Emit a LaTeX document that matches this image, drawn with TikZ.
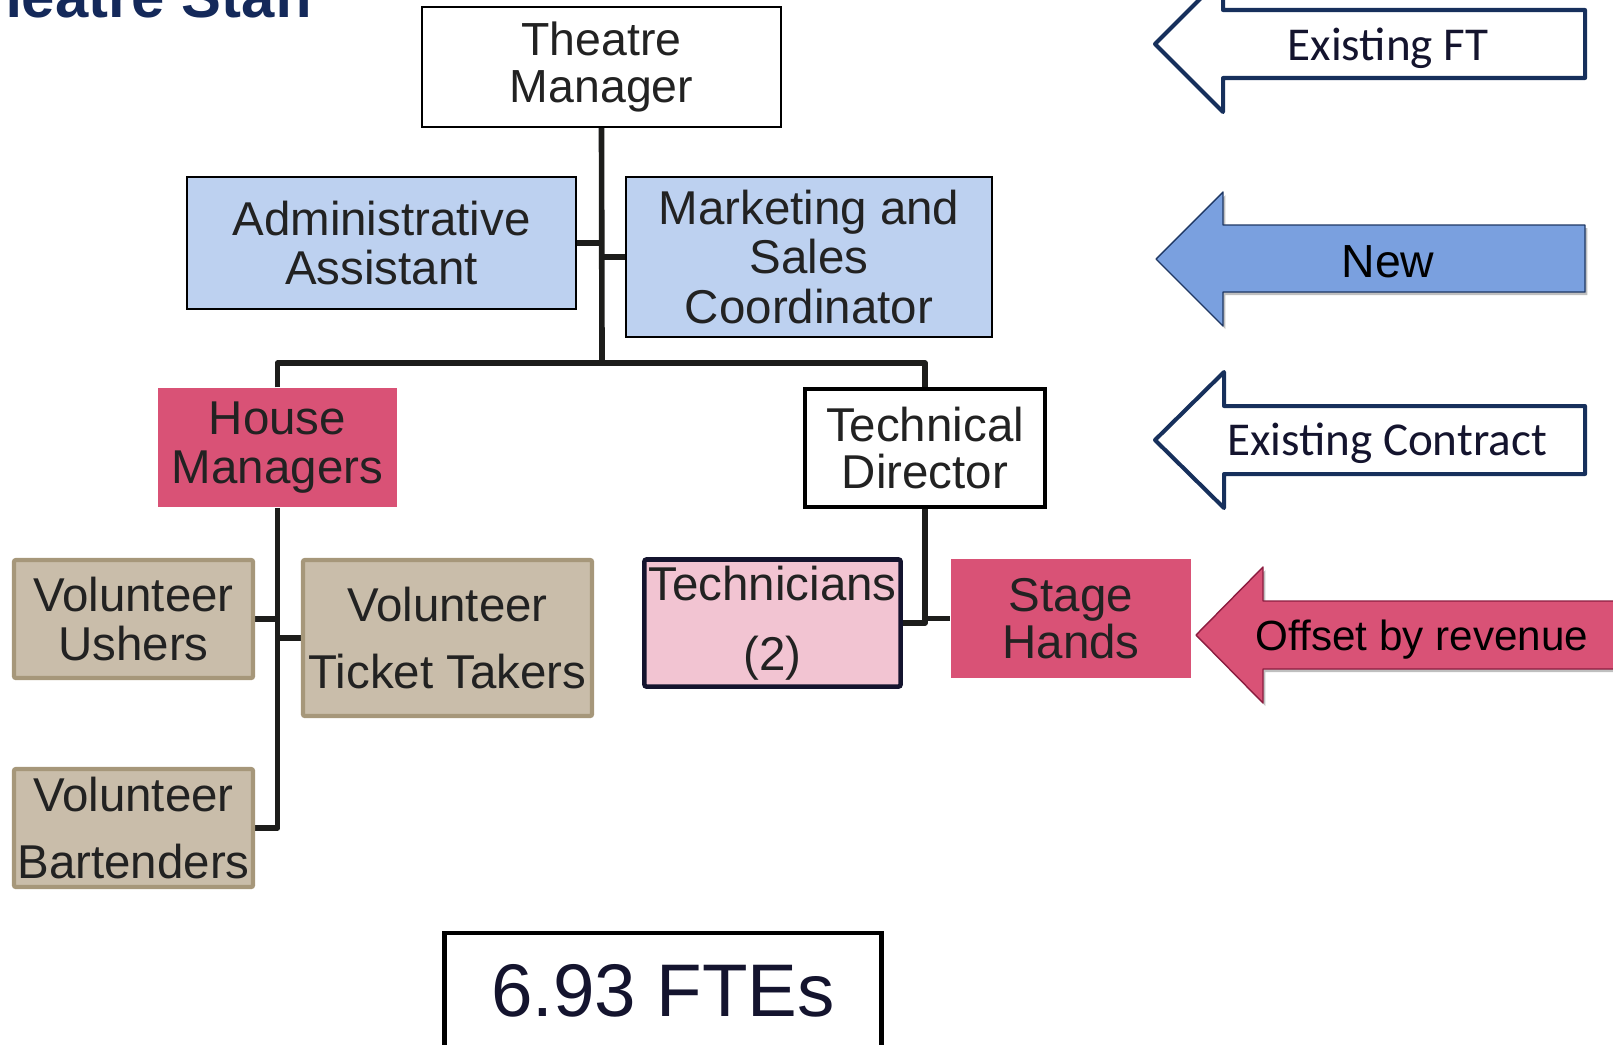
\documentclass[tikz,border=0pt]{standalone}
\usepackage{fontspec}
\setmainfont{Liberation Sans}
\newfontfamily\legendfont{Carlito}
\usetikzlibrary{shadows,positioning,calc}
\pgfdeclarelayer{connectors}
\pgfsetlayers{connectors,main}

\definecolor{titlenavy}{HTML}{14295A}
\definecolor{legendnavy}{HTML}{17305C}
\definecolor{boxtext}{HTML}{222222}
\definecolor{newblue}{HTML}{BDD1F0}
\definecolor{arrowblue}{HTML}{7AA0DF}
\definecolor{arrowblueline}{HTML}{1F3864}
\definecolor{rosered}{HTML}{D95276}
\definecolor{roseline}{HTML}{8C1D40}
\definecolor{techpink}{HTML}{F2C4D2}
\definecolor{techline}{HTML}{14142E}
\definecolor{tanfill}{HTML}{C9BDAA}
\definecolor{tanline}{HTML}{A6977A}
\definecolor{linkgray}{HTML}{1D1D1B}

\begin{document}
\begin{tikzpicture}[x=0.01cm,y=-0.01cm]

  \tikzstyle{every node}=[font=\fontsize{13.5}{14}\selectfont, text=boxtext]

  \tikzset{role/.style={rectangle, align=center, inner sep=0pt},
    plain role/.style={role, draw=black, line width=0.6pt, fill=white},
    new role/.style={role, draw=black, line width=0.6pt, fill=newblue},
    revenue role/.style={role, fill=rosered},
    contract role/.style={role, draw=black, line width=1.2pt, fill=white},
    volunteer role/.style={role, draw=tanline, line width=1.2pt, fill=tanfill, rounded corners=0.6pt},
    tech role/.style={role, draw=techline, line width=1.3pt, fill=techpink, rounded corners=0.6pt},
    link/.style={draw=linkgray, line width=1.6pt, line join=round},
    legend open/.style={draw=legendnavy, line width=1.15pt, line join=round, fill=white},
    legend filled/.style={line width=0.4pt, line join=round,
      drop shadow={shadow xshift=0.7pt, shadow yshift=-0.9pt, opacity=0.25, fill=black}},
    legend label/.style={anchor=base, inner sep=0pt}}

  \useasboundingbox (0,0) rectangle (1613,1044);
  \clip (0,0) rectangle (1613,1044);

  % Heading, runs off the top edge
  \node[anchor=base east, inner sep=0pt, font=\fontsize{17}{17}\selectfont\bfseries, text=titlenavy] (staff title) at (315,17) {Theatre Staff};

  % Staff positions
  \node[plain role, minimum width=3.59cm, minimum height=1.20cm, font=\fontsize{13.2}{13.4}\selectfont] (Theatre Manager) at (601.5,67) {Theatre\\Manager};
  \node[new role, minimum width=3.89cm, minimum height=1.32cm, font=\fontsize{13.5}{13.9}\selectfont] (Admin Assistant) at (381.5,243) {Administrative\\Assistant};
  \node[new role, minimum width=3.66cm, minimum height=1.60cm, font=\fontsize{13.5}{14.2}\selectfont] (Marketing) at (809,257) {Marketing and\\Sales\\Coordinator};
  \node[revenue role, minimum width=2.39cm, minimum height=1.19cm, font=\fontsize{13.5}{13.9}\selectfont] (House Managers) at (277.5,447.5) {House\\Managers};
  \node[contract role, minimum width=2.40cm, minimum height=1.18cm, font=\fontsize{13.5}{13.4}\selectfont] (Technical Director) at (925,448) {Technical\\Director};

  % Volunteers under the house managers
  \node[volunteer role, minimum width=2.39cm, minimum height=1.18cm, font=\fontsize{13.5}{14.2}\selectfont] (Volunteer Ushers) at (133.5,619) {Volunteer\\Ushers};
  \node[volunteer role, minimum width=2.89cm, minimum height=1.56cm, font=\fontsize{13.5}{19.3}\selectfont] (Ticket Takers) at (447.5,638) {Volunteer\\Ticket Takers};
  \node[volunteer role, minimum width=2.39cm, minimum height=1.18cm, font=\fontsize{13.5}{19.3}\selectfont] (Volunteer Bartenders) at (133.5,828) {Volunteer\\Bartenders};

  % Crew under the technical director
  \node[tech role, minimum width=2.56cm, minimum height=1.27cm, font=\fontsize{13.5}{19.9}\selectfont] (Technicians) at (772.5,623) {Technicians\\(2)};
  \node[revenue role, minimum width=2.40cm, minimum height=1.19cm, font=\fontsize{13.5}{13.4}\selectfont] (Stage Hands) at (1071,618.5) {Stage\\Hands};

  % Total head count
  \node[role, draw=black, line width=1.3pt, fill=white, minimum width=4.37cm, minimum height=1.16cm, font=\fontsize{21.2}{22}\selectfont, text=techline] (FTE total) at (663,991) {6.93 FTEs};

  % Connectors, kept behind the boxes
  \begin{pgfonlayer}{connectors}
    \coordinate (bar) at (602,363);
    \draw[link] (Theatre Manager.south) -- (bar);
    \draw[link] (House Managers.north) |- (bar) -| (Technical Director.north);
    \draw[link] (Admin Assistant.east) -- (Admin Assistant.east -| bar);
    \draw[link] (Marketing.west) -- (Marketing.west -| bar);

    \draw[link] (House Managers.south) |- (Volunteer Bartenders.east);
    \draw[link] (Volunteer Ushers.east) -- (Volunteer Ushers.east -| House Managers.south);
    \draw[link] (Ticket Takers.west) -- (Ticket Takers.west -| House Managers.south);

    \draw[link] (Technical Director.south) |- (Stage Hands.west);
    \draw[link] (Technicians.east) -| (Technical Director.south);
  \end{pgfonlayer}

  % Legend arrows
  \draw[legend open] (1155,44) -- ++(68,-68) -- ++(0,34) -- ++(362,0) -- ++(0,68) -- ++(-362,0) -- ++(0,34) -- cycle;
  \node[legend label, font=\legendfont\fontsize{13.4}{14}\selectfont, text=techline] (legend ft) at (1388,60) {Existing FT};

  \draw[legend filled, draw=arrowblueline, fill=arrowblue] (1156,259) -- ++(67,-67) -- ++(0,33) -- ++(362,0) -- ++(0,67) -- ++(-362,0) -- ++(0,34) -- cycle;
  \node[legend label, font=\fontsize{13.2}{14}\selectfont, text=black] (legend new) at (1388,277) {New};

  \draw[legend open] (1155,440) -- ++(69,-68) -- ++(0,34) -- ++(361,0) -- ++(0,68) -- ++(-361,0) -- ++(0,34) -- cycle;
  \node[legend label, font=\legendfont\fontsize{13.4}{14}\selectfont, text=techline] (legend contract) at (1387,455) {Existing Contract};

  \draw[legend filled, draw=roseline, fill=rosered] (1196,635) -- ++(67,-68) -- ++(0,34) -- ++(420,0) -- ++(0,68) -- ++(-420,0) -- ++(0,34) -- cycle;
  \node[legend label, font=\fontsize{12}{14}\selectfont, text=black] (legend revenue) at (1422,650) {Offset by revenue};

\end{tikzpicture}
\end{document}
